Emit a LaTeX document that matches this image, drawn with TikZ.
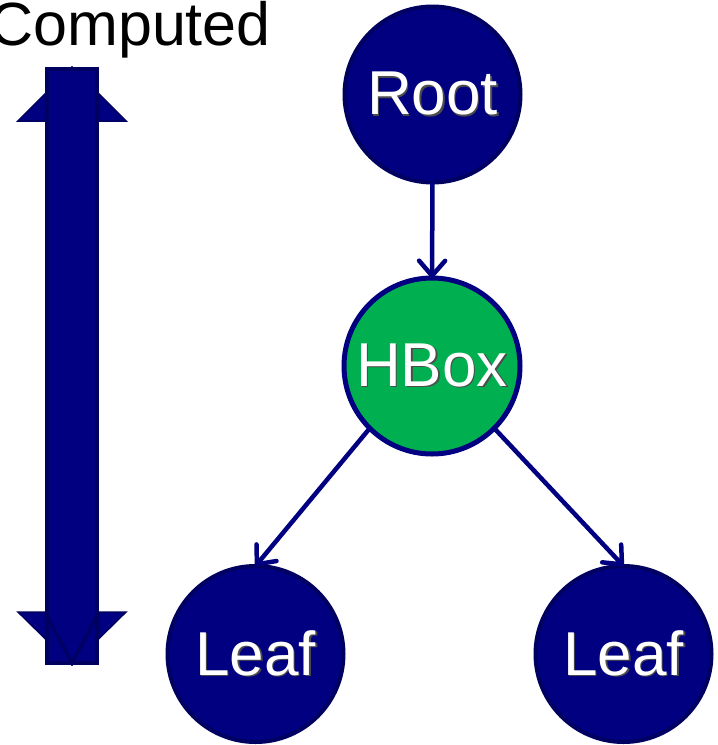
\documentclass[tikz,border=0pt]{standalone}
\usepackage{fontspec}
\setmainfont{Liberation Sans}
\usetikzlibrary{arrows.meta}
\definecolor{navy}{RGB}{0,0,128}
\definecolor{navyedge}{RGB}{0,0,96}
\definecolor{hgreen}{RGB}{0,176,80}
% white label with a soft dark drop shadow
\newcommand{\shadowed}[1]{\rlap{\hspace{1.5pt}\raisebox{-1.5pt}{\color{black!70}#1}}#1}

\begin{document}
\begin{tikzpicture}[x=1pt,y=-1pt,
  treenode/.style={circle, minimum size=176pt, inner sep=0pt, outer sep=0pt,
    draw=navyedge, line width=4pt, fill=navy, text=white,
    font=\fontsize{62}{62}\selectfont},
  hboxnode/.style={treenode, fill=hgreen, draw=navy, line width=5pt},
  link/.style={draw=navy, line width=4.5pt, line cap=round,
    -{Straight Barb[length=15pt,width=26pt,round]}},
  arrowbody/.style={fill=navy, draw=navyedge, line width=4pt},
  arrowhead/.style={fill=navy, draw=navyedge, line width=1.5pt, line join=miter}]
\useasboundingbox (0,0) rectangle (718,745);

% caption of the double arrow
\node[anchor=base east, inner sep=0pt, font=\fontsize{61}{61}\selectfont] (cap) at (271,45) {Computed};

% vertical double-headed arrow
\path[arrowhead] (18,121) -- (72,67) -- (126,121) -- cycle;
\path[arrowhead] (18,612) -- (72,665) -- (126,612) -- cycle;
\path[arrowbody] (47,69) rectangle (97,663);
\draw[navyedge, line width=3pt] (45,612) -- (72,663) -- (99,612);

% tree
\node[treenode] (root) at (432.5,94.5) {\shadowed{Root}};
\node[hboxnode] (hbox) at (432,366) {\shadowed{HBox}};
\node[treenode] (leafL) at (255.5,654) {\shadowed{Leaf}};
\node[treenode] (leafR) at (623.5,654) {\shadowed{Leaf}};

\draw[link] (root.south) -- (hbox.north);
\draw[link] (hbox.south west) -- (leafL.north);
\draw[link] (hbox.south east) -- (leafR.north);
\end{tikzpicture}
\end{document}
